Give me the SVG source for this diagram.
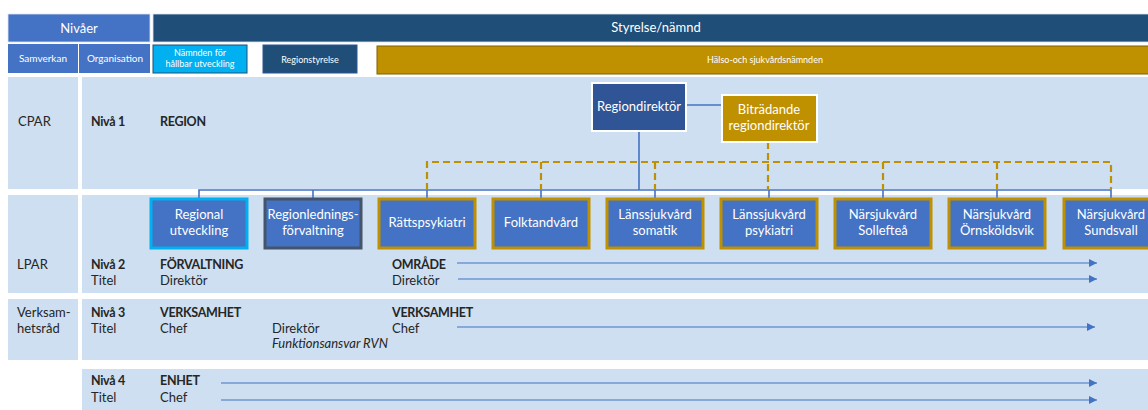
<svg xmlns="http://www.w3.org/2000/svg" width="1148" height="410" viewBox="0 0 1148 410">
  <defs>
    <marker id="arrow" viewBox="0 0 10 10" refX="10" refY="5" markerWidth="8" markerHeight="8" markerUnits="userSpaceOnUse" orient="auto">
      <path d="M0 0 L10 5 L0 10 Z" fill="#4472C4"/>
    </marker>
  </defs>
  <style>
    text { font-family: Lato, "Open Sans", "Liberation Sans", sans-serif; }
    .band { fill: #CDDFF0; }
    .hdr { fill: #FFFFFF; text-anchor: middle; }
    .lbl { fill: #262626; font-size: 13px; }
    .b { font-weight: bold; font-size: 12.5px; letter-spacing: -0.3px; }
    .node rect { fill: #4472C4; stroke-width: 3; }
    .node text { fill: #FFFFFF; font-size: 13px; text-anchor: middle; }
    .gold rect { stroke: #BF9000; }
    .tree { fill: none; stroke: #4472C4; stroke-width: 1.6; }
    .dash { fill: none; stroke: #BF9000; stroke-width: 2.2; stroke-dasharray: 7 4; }
    .flow { fill: none; stroke: #4472C4; stroke-width: 1.2; marker-end: url(#arrow); }
  </style>

  <rect width="1148" height="410" fill="#FFFFFF"/>

  <!-- header rows -->
  <g id="header">
    <rect x="8" y="14" width="142" height="28" fill="#4472C4" stroke="#DCE6F4" stroke-width="0.8"/>
    <text class="hdr" x="79" y="33" font-size="13">Nivåer</text>
    <rect x="153" y="14" width="1000" height="28" fill="#1F4E79" stroke="#DCE6F4" stroke-width="0.8"/>
    <text class="hdr" x="656" y="32" font-size="13">Styrelse/nämnd</text>

    <rect x="8" y="44" width="70" height="29" fill="#4472C4"/>
    <text class="hdr" x="43" y="62" font-size="10">Samverkan</text>
    <rect x="79" y="44" width="71" height="29" fill="#4472C4"/>
    <text class="hdr" x="115" y="62" font-size="10">Organisation</text>

    <rect x="153" y="45" width="94" height="28" fill="#00B0F0" stroke="#1F4E79" stroke-width="1"/>
    <text class="hdr" x="200" y="56" font-size="9">Nämnden för</text>
    <text class="hdr" x="200" y="67" font-size="9">hållbar utveckling</text>

    <rect x="263" y="45" width="94" height="28" fill="#1F4E79" stroke="#2F5597" stroke-width="1"/>
    <text class="hdr" x="310" y="63" font-size="9">Regionstyrelse</text>

    <rect x="377" y="46" width="775" height="28" fill="#BF9000" stroke="#7F6000" stroke-width="1"/>
    <text class="hdr" x="765" y="63" font-size="9">Hälso-och sjukvårdsnämnden</text>
  </g>

  <!-- level bands -->
  <g id="bands">
    <rect class="band" x="8" y="77" width="70" height="112"/>
    <rect class="band" x="82" y="77" width="1066" height="112"/>
    <rect class="band" x="8" y="195" width="70" height="98"/>
    <rect class="band" x="82" y="195" width="1066" height="98"/>
    <rect class="band" x="8" y="299" width="70" height="61"/>
    <rect class="band" x="82" y="299" width="1066" height="61"/>
    <rect class="band" x="82" y="369" width="1066" height="41"/>
  </g>

  <!-- level labels -->
  <g id="levels">
    <text class="lbl" x="18" y="126">CPAR</text>
    <text class="lbl b" x="91" y="126">Nivå 1</text>
    <text class="lbl b" x="160" y="126">REGION</text>

    <text class="lbl" x="17" y="269">LPAR</text>
    <text class="lbl b" x="91" y="269">Nivå 2</text>
    <text class="lbl" x="91" y="285">Titel</text>
    <text class="lbl b" x="160" y="269">FÖRVALTNING</text>
    <text class="lbl" x="160" y="285">Direktör</text>
    <text class="lbl b" x="392" y="269">OMRÅDE</text>
    <text class="lbl" x="392" y="285">Direktör</text>

    <text class="lbl" x="17" y="317">Verksam-</text>
    <text class="lbl" x="17" y="333">hetsråd</text>
    <text class="lbl b" x="91" y="317">Nivå 3</text>
    <text class="lbl" x="91" y="333">Titel</text>
    <text class="lbl b" x="160" y="317">VERKSAMHET</text>
    <text class="lbl" x="160" y="333">Chef</text>
    <text class="lbl" x="272" y="333">Direktör</text>
    <text class="lbl" x="272" y="348" font-size="10.5" font-style="italic">Funktionsansvar RVN</text>
    <text class="lbl b" x="392" y="317">VERKSAMHET</text>
    <text class="lbl" x="392" y="333">Chef</text>

    <text class="lbl b" x="91" y="385">Nivå 4</text>
    <text class="lbl" x="91" y="402">Titel</text>
    <text class="lbl b" x="160" y="385">ENHET</text>
    <text class="lbl" x="160" y="402">Chef</text>
  </g>

  <!-- connectors -->
  <g id="connectors">
    <path class="tree" d="M686 105 H722"/>
    <path class="tree" d="M639 131 V190"/>
    <path class="tree" d="M199 199 V190 H1111 V199 M313 190 V199 M427 190 V199 M541 190 V199 M655 190 V199 M769 190 V199 M883 190 V199 M997 190 V199"/>
    <path class="dash" d="M768 142 V190 M427 190 V162 H1111 V190 M541 162 V190 M655 162 V190 M883 162 V190 M997 162 V190"/>
    <path class="flow" d="M457 263 H1097"/>
    <path class="flow" d="M458 279 H1097"/>
    <path class="flow" d="M457 327 H1095"/>
    <path class="flow" d="M221 383 H1097"/>
    <path class="flow" d="M221 400 H1097"/>
  </g>

  <!-- top management -->
  <g id="regiondirektor">
    <rect x="592" y="83" width="94" height="48" fill="#2F5597" stroke="#FFFFFF" stroke-width="2"/>
    <text x="639" y="111" fill="#FFFFFF" font-size="13" text-anchor="middle">Regiondirektör</text>
  </g>
  <g id="bitradande">
    <rect x="722" y="95" width="95" height="47" fill="#BF9000" stroke="#FFFFFF" stroke-width="2"/>
    <text x="769" y="114" fill="#FFFFFF" font-size="13" text-anchor="middle">Biträdande</text>
    <text x="769" y="130" fill="#FFFFFF" font-size="13" text-anchor="middle">regiondirektör</text>
  </g>

  <!-- administrations and areas -->
  <g id="regional-utveckling" class="node">
    <rect x="151" y="199" width="96" height="49" stroke="#00B0F0"/>
    <text x="199" y="219">Regional</text>
    <text x="199" y="235">utveckling</text>
  </g>
  <g id="regionledningsforvaltning" class="node">
    <rect x="265" y="199" width="96" height="49" stroke="#44546A"/>
    <text x="313" y="219">Regionlednings-</text>
    <text x="313" y="235">förvaltning</text>
  </g>
  <g id="rattspsykiatri" class="node gold">
    <rect x="379" y="199" width="96" height="49"/>
    <text x="427" y="227">Rättspsykiatri</text>
  </g>
  <g id="folktandvard" class="node gold">
    <rect x="493" y="199" width="96" height="49"/>
    <text x="541" y="227">Folktandvård</text>
  </g>
  <g id="lanssjukvard-somatik" class="node gold">
    <rect x="607" y="199" width="96" height="49"/>
    <text x="655" y="219">Länssjukvård</text>
    <text x="655" y="235">somatik</text>
  </g>
  <g id="lanssjukvard-psykiatri" class="node gold">
    <rect x="721" y="199" width="96" height="49"/>
    <text x="769" y="219">Länssjukvård</text>
    <text x="769" y="235">psykiatri</text>
  </g>
  <g id="narsjukvard-solleftea" class="node gold">
    <rect x="835" y="199" width="96" height="49"/>
    <text x="883" y="219">Närsjukvård</text>
    <text x="883" y="235">Sollefteå</text>
  </g>
  <g id="narsjukvard-ornskoldsvik" class="node gold">
    <rect x="949" y="199" width="96" height="49"/>
    <text x="997" y="219">Närsjukvård</text>
    <text x="997" y="235">Örnsköldsvik</text>
  </g>
  <g id="narsjukvard-sundsvall" class="node gold">
    <rect x="1064" y="199" width="96" height="49"/>
    <text x="1111" y="219">Närsjukvård</text>
    <text x="1111" y="235">Sundsvall</text>
  </g>
</svg>
